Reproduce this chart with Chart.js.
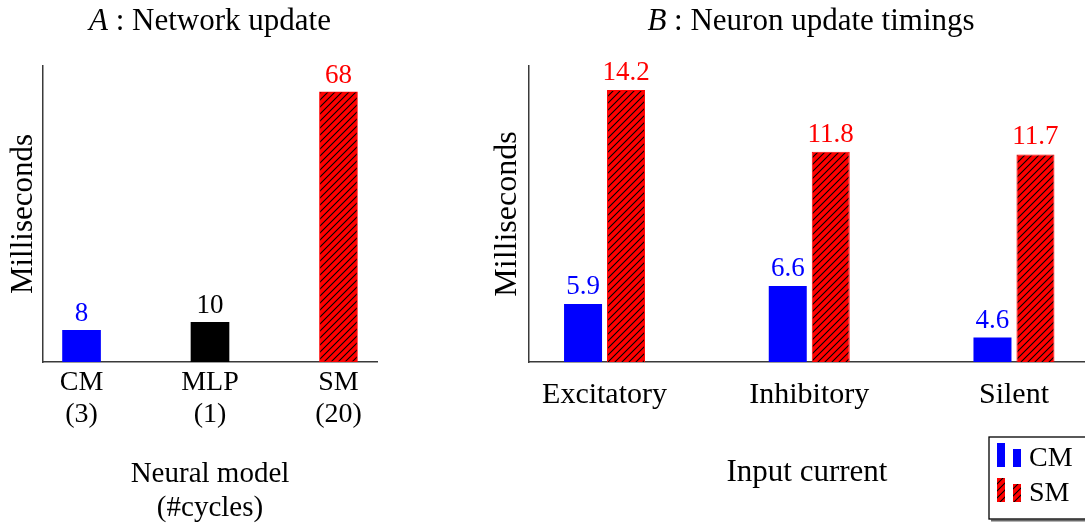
<!DOCTYPE html>
<html>
<head>
<meta charset="utf-8">
<script src="https://cdn.jsdelivr.net/npm/chart.js@4.4.1/dist/chart.umd.min.js"></script>
<style>
  html, body { margin: 0; padding: 0; background: #fff; }
  #wrap { position: relative; width: 1085px; height: 527px; overflow: hidden; }
  #chartA { position: absolute; left: 0; top: 0; }
  #chartB { position: absolute; left: 480px; top: 0; }
</style>
</head>
<body>
<div id="wrap">
  <canvas id="chartA" width="440" height="527"></canvas>
  <canvas id="chartB" width="605" height="527"></canvas>
</div>
<script>
// Panel A: whole-network update time per neural model
const modelNames = ['CM', 'MLP', 'SM'];
const modelCycles = [3, 1, 20];
const networkUpdateMs = [8, 10, 68];

// Panel B: single-neuron update time per input current
const inputCurrents = ['Excitatory', 'Inhibitory', 'Silent'];
const cmNeuronMs = [5.9, 6.6, 4.6];
const smNeuronMs = [14.2, 11.8, 11.7];

const SERIF = "'Liberation Serif', 'Times New Roman', serif";
const BLUE = '#0000ff', RED = '#ff0000', BLACK = '#000000';
const AXIS = '#3a3a3a';

// red fill with thin black "/" diagonals
function hatchPattern(ctx) {
  const s = 7;
  const c = document.createElement('canvas');
  c.width = s; c.height = s;
  const g = c.getContext('2d');
  g.fillStyle = RED;
  g.fillRect(0, 0, s, s);
  g.strokeStyle = '#000';
  g.lineWidth = 1.1;
  g.beginPath();
  g.moveTo(-1, s + 1); g.lineTo(s + 1, -1);
  g.moveTo(-1, 1); g.lineTo(1, -1);
  g.moveTo(s - 1, s + 1); g.lineTo(s + 1, s - 1);
  g.stroke();
  return ctx.createPattern(c, 'repeat');
}

// numbers printed above each bar
const valueLabels = {
  id: 'valueLabels',
  afterDatasetsDraw(chart, args, opts) {
    const ctx = chart.ctx;
    ctx.save();
    ctx.font = opts.size + 'px ' + SERIF;
    ctx.textAlign = 'center';
    ctx.textBaseline = 'alphabetic';
    chart.data.datasets.forEach((ds, di) => {
      const meta = chart.getDatasetMeta(di);
      meta.data.forEach((el, i) => {
        const v = ds.data[i].y;
        ctx.fillStyle = Array.isArray(ds.labelColor) ? ds.labelColor[i] : ds.labelColor;
        ctx.fillText(v.toFixed(opts.decimals), el.x, el.y - opts.gap);
      });
    });
    ctx.restore();
  }
};

// panel heading with an italic letter
const panelTitle = {
  id: 'panelTitle',
  afterDraw(chart, args, o) {
    const ctx = chart.ctx;
    const { left, right } = chart.chartArea;
    const it = 'italic ' + o.size + 'px ' + SERIF;
    const rg = o.size + 'px ' + SERIF;
    ctx.save();
    ctx.font = it; const w1 = ctx.measureText(o.letter).width;
    ctx.font = rg; const w2 = ctx.measureText(o.text).width;
    const x = (left + right) / 2 - (w1 + w2) / 2 + o.shift;
    ctx.textBaseline = 'middle';
    ctx.textAlign = 'left';
    ctx.fillStyle = '#000';
    ctx.font = it; ctx.fillText(o.letter, x, o.y);
    ctx.font = rg; ctx.fillText(o.text, x + w1, o.y);
    ctx.restore();
  }
};

// framed legend with two-bar icons
const boxLegend = {
  id: 'boxLegend',
  afterDraw(chart, args, o) {
    const ctx = chart.ctx;
    ctx.save();
    ctx.fillStyle = '#fff';
    ctx.fillRect(o.x, o.y, o.w, o.h);
    ctx.strokeStyle = '#6a6a6a';
    ctx.lineWidth = 2;
    ctx.beginPath();
    ctx.moveTo(o.x + 2, o.y + o.h + 1.5);
    ctx.lineTo(o.x + o.w + 2, o.y + o.h + 1.5);
    ctx.stroke();
    ctx.strokeStyle = '#000';
    ctx.lineWidth = 1.3;
    ctx.strokeRect(o.x, o.y, o.w, o.h);
    ctx.font = o.size + 'px ' + SERIF;
    ctx.textBaseline = 'middle';
    ctx.textAlign = 'left';
    chart.data.datasets.forEach((ds, i) => {
      const top = o.y + 6 + i * o.row;
      ctx.fillStyle = ds.backgroundColor;
      ctx.fillRect(o.x + 8, top, 8, 24);
      ctx.fillRect(o.x + 24, top + 6, 8, 18);
      ctx.fillStyle = '#000';
      ctx.fillText(ds.label, o.x + 40, top + 16);
    });
    ctx.restore();
  }
};

const ctxA = document.getElementById('chartA').getContext('2d');
const ctxB = document.getElementById('chartB').getContext('2d');
const hatchA = hatchPattern(ctxA);
const hatchB = hatchPattern(ctxB);

const indexTicks = (n) => (scale) => {
  scale.ticks = Array.from({ length: n }, (_, i) => ({ value: i }));
};

new Chart(ctxA, {
  type: 'bar',
  data: {
    datasets: [{
      label: 'Network update',
      data: networkUpdateMs.map((v, i) => ({ x: i, y: v })),
      backgroundColor: [BLUE, BLACK, hatchA],
      borderColor: [BLUE, BLACK, RED],
      borderWidth: [0, 0, 1],
      borderSkipped: false,
      barThickness: 38,
      labelColor: [BLUE, BLACK, RED]
    }]
  },
  options: {
    responsive: false,
    animation: false,
    events: [],
    layout: { padding: { top: 66, right: 63, bottom: 0, left: 0 } },
    scales: {
      x: {
        type: 'linear',
        offset: false,
        min: -0.3,
        max: 2.3,
        afterBuildTicks: indexTicks(modelNames.length),
        afterFit(s) { s.height = 165; },
        grid: { display: false, drawTicks: false },
        border: { display: true, color: AXIS, width: 1.5 },
        ticks: {
          autoSkip: false,
          maxRotation: 0,
          padding: 5,
          color: '#000',
          font: { family: SERIF, size: 28, lineHeight: '32px' },
          callback: (v) => [modelNames[v], '(' + modelCycles[v] + ')']
        },
        title: {
          display: true,
          text: ['Neural model', '(#cycles)'],
          color: '#000',
          font: { family: SERIF, size: 29, lineHeight: '34px' },
          padding: { top: 0, bottom: 2 }
        }
      },
      y: {
        min: 0,
        max: 74.5,
        afterFit(s) { s.width = 43; },
        grid: { display: false, drawTicks: false },
        border: { display: true, color: AXIS, width: 1.5 },
        ticks: { display: false },
        title: {
          display: true,
          text: 'Milliseconds',
          color: '#000',
          font: { family: SERIF, size: 31, lineHeight: '34px' },
          padding: { top: 7, bottom: 0 }
        }
      }
    },
    plugins: {
      legend: { display: false },
      tooltip: { enabled: false },
      valueLabels: { size: 27, decimals: 0, gap: 9 },
      panelTitle: { letter: 'A', text: ' : Network update', size: 31, y: 22, shift: 0 }
    }
  },
  plugins: [valueLabels, panelTitle]
});

new Chart(ctxB, {
  type: 'bar',
  data: {
    datasets: [
      {
        label: 'CM',
        data: cmNeuronMs.map((v, i) => ({ x: i, y: v })),
        backgroundColor: BLUE,
        borderWidth: 0,
        labelColor: BLUE
      },
      {
        label: 'SM',
        data: smNeuronMs.map((v, i) => ({ x: i, y: v })),
        backgroundColor: hatchB,
        borderColor: RED,
        borderWidth: 1,
        borderSkipped: false,
        labelColor: RED
      }
    ]
  },
  options: {
    responsive: false,
    animation: false,
    events: [],
    categoryPercentage: 0.42,
    barPercentage: 0.884,
    layout: { padding: { top: 66, right: 0, bottom: 0, left: 0 } },
    scales: {
      x: {
        type: 'linear',
        offset: false,
        min: -0.369,
        max: 2.347,
        afterBuildTicks: indexTicks(inputCurrents.length),
        afterFit(s) { s.height = 165; },
        grid: { display: false, drawTicks: false },
        border: { display: true, color: AXIS, width: 1.5 },
        ticks: {
          autoSkip: false,
          maxRotation: 0,
          padding: 16,
          color: '#000',
          font: { family: SERIF, size: 30, lineHeight: '34px' },
          callback: (v) => inputCurrents[v]
        },
        title: {
          display: true,
          text: 'Input current',
          color: '#000',
          font: { family: SERIF, size: 31, lineHeight: '34px' },
          padding: { top: 0, bottom: 37 }
        }
      },
      y: {
        min: 3.65,
        max: 15.13,
        afterFit(s) { s.width = 49; },
        grid: { display: false, drawTicks: false },
        border: { display: true, color: AXIS, width: 1.5 },
        ticks: { display: false },
        title: {
          display: true,
          text: 'Milliseconds',
          color: '#000',
          font: { family: SERIF, size: 32, lineHeight: '34px' },
          padding: { top: 11, bottom: 0 }
        }
      }
    },
    plugins: {
      legend: { display: false },
      tooltip: { enabled: false },
      valueLabels: { size: 27, decimals: 1, gap: 10 },
      panelTitle: { letter: 'B', text: ' : Neuron update timings', size: 31, y: 22, shift: 4 },
      boxLegend: { x: 509, y: 437, w: 130, h: 82, row: 35, size: 28 }
    }
  },
  plugins: [valueLabels, panelTitle, boxLegend]
});
</script>
</body>
</html>
